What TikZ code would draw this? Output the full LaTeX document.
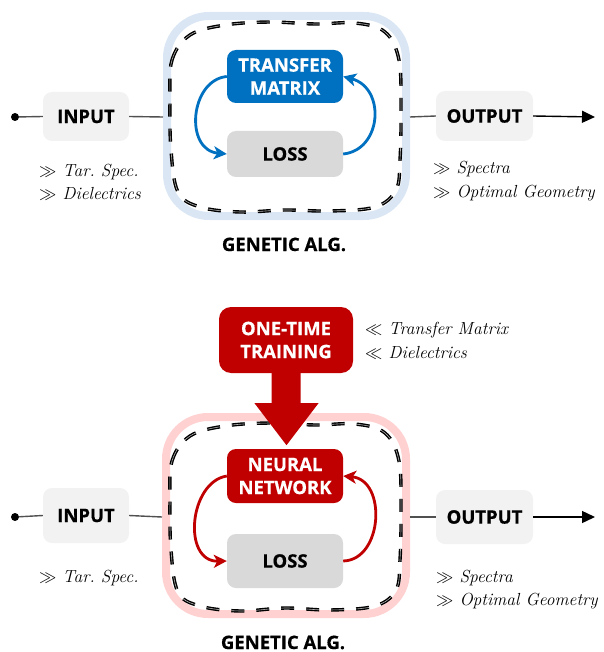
\documentclass[tikz,border=0pt]{standalone}
\usepackage{fontspec}
\newfontfamily\boldsans{Open Sans}[BoldFeatures={FakeBold=0.6}]
\usetikzlibrary{arrows.meta}
\frenchspacing

\definecolor{ioGray}{HTML}{F2F2F2}
\definecolor{lossGray}{HTML}{D9D9D9}
\definecolor{tmBlue}{HTML}{0070C0}
\definecolor{frameBlue}{HTML}{DAE6F4}
\definecolor{nnRed}{HTML}{C00000}
\definecolor{framePink}{HTML}{FFD1D1}
\definecolor{wireGray}{HTML}{505050}

\tikzset{
  label/.style={font=\boldsans\bfseries\fontsize{18.5}{23}\selectfont, align=center, inner sep=0pt},
  card/.style={label, rounded corners=9pt},
  iobox/.style={card, fill=ioGray, text=black, minimum width=86pt},
  outbox/.style={card, fill=ioGray, text=black, minimum width=97pt},
  lossbox/.style={card, fill=lossGray, text=black, minimum width=116pt},
  modelbox/.style={card, text=white, minimum width=116pt},
  note/.style={anchor=base west, inner sep=0pt, font=\fontsize{17.5}{20}\selectfont\itshape},
  wire/.style={draw=wireGray, line width=1.4pt},
  halo/.style={line width=8pt, rounded corners=42pt},
  sketch/.style={draw=black, line width=1.4pt, double=black!30, double distance=0.6pt,
                 dash pattern=on 13pt off 12pt},
  loop/.style={line width=2.8pt, -{Stealth[length=13pt,width=13pt,inset=3.5pt]}},
  outarrow/.style={line width=1.4pt, draw=black, -{Triangle[length=13pt,width=12pt]}},
  dot/.style={circle, fill=black, inner sep=0pt, minimum size=8pt},
}

\begin{document}
\begin{tikzpicture}[x=1pt,y=-1pt]
\useasboundingbox (0,0) rectangle (603,652);

% ---------------- upper scheme: transfer matrix in the loop ----------------
\draw[halo, draw=frameBlue, fill=white] (167,16) rectangle (406,216);
\draw[sketch] plot[smooth cycle, tension=0.6] coordinates {
  (170,100) (172,60) (190,35) (225,25) (270,22) (315,24) (355,23) (385,32)
  (399,60) (401,110) (400,160) (396,190) (375,207) (330,211) (285,210)
  (240,212) (200,207) (178,192) (171,150)};

\node[modelbox, fill=tmBlue, minimum height=53pt] (tm) at (285,76.5) {TRANSFER\\MATRIX};
\node[lossbox, minimum height=46pt] (lossA) at (285,154) {LOSS};

\draw[loop, draw=tmBlue] (tm.west) .. controls (190,80) and (184,150) .. (lossA.west);
\draw[loop, draw=tmBlue] (lossA.east) .. controls (382,150) and (386,88) .. (tm.east);

\node[iobox, minimum height=49pt] (inA) at (86,116.5) {INPUT};
\node[outbox, minimum height=50pt] (outA) at (484.5,116) {OUTPUT};
\node[dot] (startA) at (15,117) {};
\coordinate (gaLeftA) at (163,117);
\coordinate (gaRightA) at (410,117);
\coordinate (endA) at (595,117);

\draw[wire] (startA) -- (inA.west);
\draw[wire] (inA.east) -- (gaLeftA);
\draw[wire] (gaRightA) -- (outA.west);
\draw[outarrow] (outA.east) -- (endA);

\node[note] (inNoteA1) at (39,177) {$\gg$ Tar. Spec.};
\node[note] (inNoteA2) at (39,200) {$\gg$ Dielectrics};
\node[note] (outNoteA1) at (433,174) {$\gg$ Spectra};
\node[note] (outNoteA2) at (433,198) {$\gg$ Optimal Geometry};
\node[label, anchor=base] (gaA) at (284,251) {GENETIC ALG.};

% ---------------- lower scheme: trained network in the loop ----------------
\draw[halo, draw=framePink, fill=white] (166,417) rectangle (406,614);
\draw[sketch] plot[smooth cycle, tension=0.6] coordinates {
  (170,500) (172,461) (190,436) (225,426) (270,423) (315,425) (355,424) (385,433)
  (399,461) (401,510) (400,560) (396,590) (375,606) (330,610) (285,608)
  (240,611) (200,606) (178,592) (171,550)};

\node[card, fill=nnRed, text=white, rounded corners=12pt,
      minimum width=134pt, minimum height=66pt] (train) at (286,340) {ONE-TIME\\TRAINING};
\fill[nnRed] (train.south) ++(-14.5,-1) -- ++(29,0) -- ++(0,31) -- ++(18,0)
  -- ++(-32,42) -- ++(-32,-42) -- ++(17,0) -- cycle;

\node[modelbox, fill=nnRed, minimum height=54pt] (nn) at (285,476) {NEURAL\\NETWORK};
\node[lossbox, minimum height=54pt] (lossB) at (285,561) {LOSS};

\draw[loop, draw=nnRed] (nn.west) .. controls (189,482) and (182,562) .. (lossB.west);
\draw[loop, draw=nnRed] (lossB.east) .. controls (383,560) and (387,480) .. (nn.east);

\node[iobox, minimum height=55pt] (inB) at (86,515.5) {INPUT};
\node[outbox, minimum height=54pt] (outB) at (484.5,517) {OUTPUT};
\node[dot] (startB) at (15,517) {};
\coordinate (gaLeftB) at (162,517);
\coordinate (gaRightB) at (410,517);
\coordinate (endB) at (595,517);

\draw[wire] (startB) -- (inB.west);
\draw[wire] (inB.east) -- (gaLeftB);
\draw[wire] (gaRightB) -- (outB.west);
\draw[outarrow] (outB.east) -- (endB);

\node[note] (trNote1) at (365,334) {$\ll$ Transfer Matrix};
\node[note] (trNote2) at (365,358) {$\ll$ Dielectrics};
\node[note] (inNoteB1) at (39,582) {$\gg$ Tar. Spec.};
\node[note] (outNoteB1) at (436,582) {$\gg$ Spectra};
\node[note] (outNoteB2) at (436,605) {$\gg$ Optimal Geometry};
\node[label, anchor=base] (gaB) at (283,649) {GENETIC ALG.};
\end{tikzpicture}
\end{document}
